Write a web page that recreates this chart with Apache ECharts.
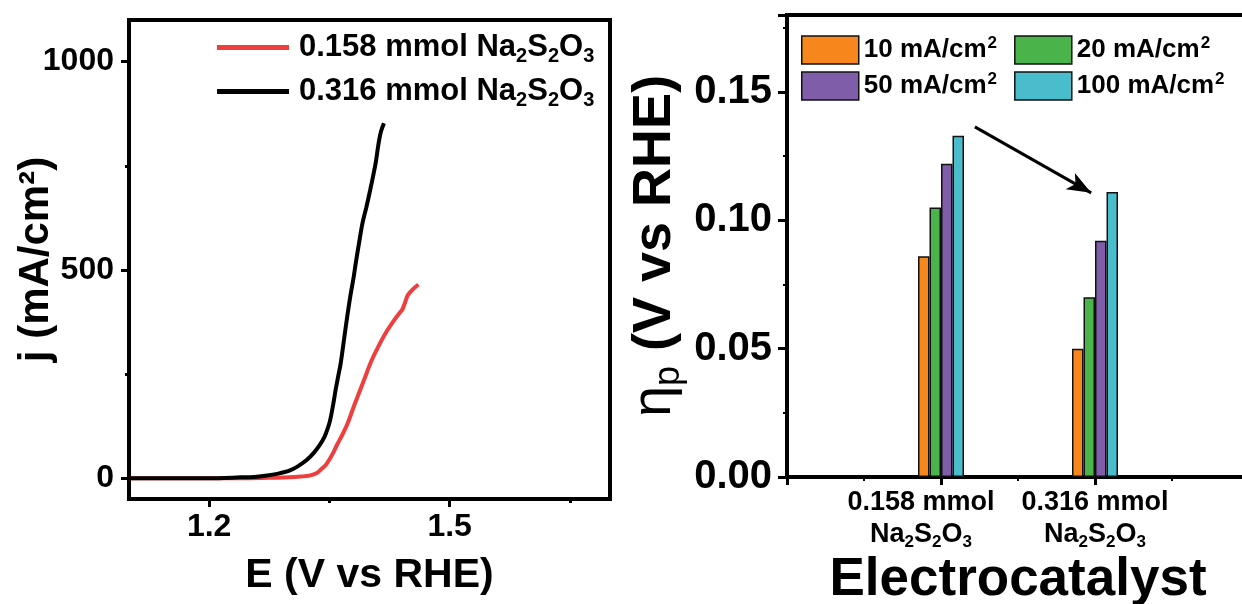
<!DOCTYPE html>
<html><head><meta charset="utf-8">
<script src="https://cdn.jsdelivr.net/npm/echarts@6/dist/echarts.min.js"></script>
<style>html,body{margin:0;padding:0;background:#fff}#c{width:1242px;height:604px}</style>
</head><body><div id="c"></div>
<script>
// ---- Left panel: LSV curves ----
const lsvNames = ['0.158 mmol', '0.316 mmol'];
const e158 = [1.100,1.150,1.200,1.250,1.280,1.300,1.315,1.325,1.335,1.340,1.346,1.350,1.355,1.360,1.365,1.372,1.381,1.388,1.394,1.402,1.411,1.420,1.431,1.438,1.441,1.444,1.448,1.455,1.461];
const j158 = [0,0,0,0,1,2,4,6,13,22,33,45,62,82,100,128,175,210,240,280,316,348,380,398,405,420,440,455,465];
const e316 = [1.100,1.150,1.200,1.240,1.256,1.270,1.286,1.300,1.311,1.322,1.331,1.338,1.344,1.348,1.351,1.355,1.358,1.361,1.364,1.368,1.372,1.376,1.380,1.383,1.387,1.391,1.396,1.401,1.405,1.408,1.411,1.414,1.418];
const j316 = [0,0,0,2,3,6,11,18,29,44,62,80,100,120,140,180,215,245,275,330,385,436,480,518,565,610,650,693,730,760,800,830,852];
const xTicksLeft = [1.2, 1.5];
const xMinorLeft = [1.35, 1.65];
const yTicksLeft = [0, 500, 1000];
const yMinorLeft = [250, 750];

// ---- Right panel: overpotential bars ----
const catNames = ['0.158 mmol', '0.316 mmol'];
const catPos = [1, 2];
const currents = ['10 mA/cm2', '20 mA/cm2', '50 mA/cm2', '100 mA/cm2'];
const eta10 = [0.086, 0.050];
const eta20 = [0.105, 0.070];
const eta50 = [0.122, 0.092];
const eta100 = [0.133, 0.111];
const yTicksRight = [0, 0.05, 0.10, 0.15];
const arrowFrom = [1.22, 0.1364];
const arrowTo = [1.975, 0.1107];

const FONT = '"Liberation Sans", Arial, sans-serif';
const barColors = ['#F7861C', '#4AB34A', '#7F5DA8', '#4ABDCD'];
const etaAll = [eta10, eta20, eta50, eta100];

const tok = (fs, extra) => Object.assign({fontSize: fs, fontWeight: 'bold', fontFamily: FONT, color: '#000'}, extra || {});
const chemRich = (fs, sub) => ({
  a: tok(fs, {lineHeight: fs + 6}),
  f: tok(fs, {lineHeight: fs + 6, padding: [0, 0, 0, 5]}),
  s: tok(sub, {lineHeight: sub, verticalAlign: 'bottom'})
});
const chem = (t, first) => '{' + (first ? 'f' : 'a') + '|' + t + ' Na}{s|2}{a|S}{s|2}{a|O}{s|3}';

const chart = echarts.init(document.getElementById('c'), null, {renderer: 'canvas'});

const barSeries = etaAll.map((arr, i) => ({
  type: 'bar', name: currents[i], xAxisIndex: 2, yAxisIndex: 2,
  data: catPos.map((p, k) => [p, arr[k]]),
  barWidth: 11.5, barGap: '0%',
  itemStyle: {color: barColors[i], borderColor: '#111', borderWidth: 1.5}
}));

const arrowSeries = {
  type: 'scatter', name: 'arrow', xAxisIndex: 2, yAxisIndex: 2, data: [], silent: true,
  markLine: {
    silent: true, symbol: ['none', 'arrow'], symbolSize: [14, 24],
    lineStyle: {color: '#000', width: 3, type: 'solid'},
    label: {show: false},
    data: [[{coord: arrowFrom}, {coord: arrowTo}]]
  }
};

const legendRich = {
  t: tok(26, {lineHeight: 30}),
  u: tok(17, {lineHeight: 30, verticalAlign: 'top', padding: [0, 0, 0, 1]})
};
const legendFmt = n => '{t|' + n.slice(0, -1) + '}{u|' + n.slice(-1) + '}';

const catRich = {
  a: tok(27, {lineHeight: 32}),
  b: tok(27, {lineHeight: 32, padding: [0, 40, 0, 0]}),
  s: tok(17, {lineHeight: 17, verticalAlign: 'bottom'}),
  sb: tok(17, {lineHeight: 17, verticalAlign: 'bottom', padding: [0, 40, 0, 0]})
};
const catLabel = (k) => k === 0
  ? '{b|' + catNames[k] + '}\n{a|Na}{s|2}{a|S}{s|2}{a|O}{sb|3}'
  : '{a|' + catNames[k] + '}\n{a|Na}{s|2}{a|S}{s|2}{a|O}{s|3}';

chart.setOption({
  animation: false,
  backgroundColor: '#fff',
  grid: [
    {left: 129, top: 20, width: 481, height: 479, show: true, borderColor: '#000', borderWidth: 4, outerBoundsMode: 'none', containLabel: false},
    {left: 787, top: 15, width: 462, height: 462, show: true, borderColor: '#000', borderWidth: 4, outerBoundsMode: 'none', containLabel: false}
  ],
  legend: [
    {
      left: 212, top: 27, orient: 'vertical', itemWidth: 72, itemHeight: 5, itemGap: 10, icon: 'rect',
      data: lsvNames,
      formatter: n => chem(n, true),
      textStyle: {rich: chemRich(31, 20)}
    },
    {
      left: 796, top: 30, itemWidth: 57, itemHeight: 28, itemGap: 17, icon: 'rect',
      data: [currents[0], currents[1]],
      formatter: legendFmt,
      itemStyle: {borderColor: '#111', borderWidth: 1.5},
      textStyle: {rich: legendRich}
    },
    {
      left: 796, top: 66, itemWidth: 57, itemHeight: 28, itemGap: 17, icon: 'rect',
      data: [currents[2], currents[3]],
      formatter: legendFmt,
      itemStyle: {borderColor: '#111', borderWidth: 1.5},
      textStyle: {rich: legendRich}
    }
  ],
  xAxis: [
    {
      type: 'value', gridIndex: 0, min: 1.1, max: 1.7,
      name: 'E (V vs RHE)', nameLocation: 'middle', nameGap: 56, nameMoveOverlap: false,
      nameTextStyle: tok(41),
      axisLine: {show: true, onZero: false, lineStyle: {color: '#000', width: 4}},
      axisTick: {show: true, customValues: xTicksLeft, length: 8, lineStyle: {color: '#000', width: 3}},
      axisLabel: Object.assign(tok(32), {customValues: xTicksLeft, margin: 12, formatter: v => v.toFixed(1)}),
      splitLine: {show: false}
    },
    {
      type: 'value', gridIndex: 0, min: 1.1, max: 1.7, position: 'bottom',
      axisLine: {show: false, onZero: false},
      axisTick: {show: true, customValues: xMinorLeft, length: 4, lineStyle: {color: '#000', width: 3}},
      axisLabel: {show: false}, splitLine: {show: false}
    },
    {
      type: 'value', gridIndex: 1, min: 0, max: 3, interval: 1,
      name: 'Electrocatalyst', nameLocation: 'middle', nameGap: 77, nameMoveOverlap: false,
      nameTextStyle: tok(53),
      axisLine: {show: true, onZero: false, lineStyle: {color: '#000', width: 4}},
      axisTick: {show: true, length: 8, lineStyle: {color: '#000', width: 3}},
      minorTick: {show: true, splitNumber: 2, length: 4, lineStyle: {color: '#000', width: 2}},
      axisLabel: {
        customValues: [catPos[1]], margin: 10, hideOverlap: false,
        formatter: v => catLabel(catPos.indexOf(v)),
        rich: catRich
      },
      splitLine: {show: false}, minorSplitLine: {show: false}
    },
    {
      type: 'value', gridIndex: 1, min: 0, max: 3, position: 'bottom',
      axisLine: {show: false, onZero: false},
      axisTick: {show: false},
      axisLabel: {
        customValues: [catPos[0]], margin: 10, hideOverlap: false,
        formatter: v => catLabel(catPos.indexOf(v)),
        rich: catRich
      },
      splitLine: {show: false}, minorSplitLine: {show: false}
    }
  ],
  yAxis: [
    {
      type: 'value', gridIndex: 0, min: -50, max: 1100,
      name: 'j (mA/cm²)', nameLocation: 'middle', nameGap: 72, nameMoveOverlap: false,
      nameTextStyle: tok(42),
      axisLine: {show: true, onZero: false, lineStyle: {color: '#000', width: 4}},
      axisTick: {show: true, customValues: yTicksLeft, length: 8, lineStyle: {color: '#000', width: 3}},
      axisLabel: Object.assign(tok(32), {customValues: yTicksLeft, margin: 15, formatter: v => String(v)}),
      splitLine: {show: false}
    },
    {
      type: 'value', gridIndex: 0, min: -50, max: 1100, position: 'left',
      axisLine: {show: false, onZero: false},
      axisTick: {show: true, customValues: yMinorLeft, length: 4, lineStyle: {color: '#000', width: 3}},
      axisLabel: {show: false}, splitLine: {show: false}
    },
    {
      type: 'value', gridIndex: 1, min: 0, max: 0.18, interval: 0.05,
      name: '{e|η}{p|p}{m| (V vs RHE)}', nameLocation: 'middle', nameGap: 100, nameMoveOverlap: false,
      nameTextStyle: {
        fontFamily: FONT, color: '#000',
        rich: {
          e: {fontSize: 56, fontWeight: 'normal', fontFamily: FONT, color: '#000', lineHeight: 64},
          p: {fontSize: 36, fontWeight: 'normal', fontFamily: FONT, color: '#000', lineHeight: 36, verticalAlign: 'bottom'},
          m: tok(54, {lineHeight: 64})
        }
      },
      axisLine: {show: true, onZero: false, lineStyle: {color: '#000', width: 4}},
      axisTick: {show: true, length: 9, lineStyle: {color: '#000', width: 3}},
      minorTick: {show: true, splitNumber: 2, length: 4, lineStyle: {color: '#000', width: 2}},
      axisLabel: Object.assign(tok(40), {customValues: yTicksRight, margin: 15, formatter: v => v.toFixed(2)}),
      splitLine: {show: false}, minorSplitLine: {show: false}
    }
  ],
  series: [
    {
      type: 'line', name: lsvNames[0], xAxisIndex: 0, yAxisIndex: 0, symbol: 'none', smooth: 0.3,
      lineStyle: {color: '#EE3E3E', width: 4}, itemStyle: {color: '#EE3E3E'},
      data: e158.map((x, i) => [x, j158[i]])
    },
    {
      type: 'line', name: lsvNames[1], xAxisIndex: 0, yAxisIndex: 0, symbol: 'none', smooth: 0.3,
      lineStyle: {color: '#000', width: 4}, itemStyle: {color: '#000'},
      data: e316.map((x, i) => [x, j316[i]])
    }
  ].concat(barSeries, [arrowSeries])
});
</script></body></html>
